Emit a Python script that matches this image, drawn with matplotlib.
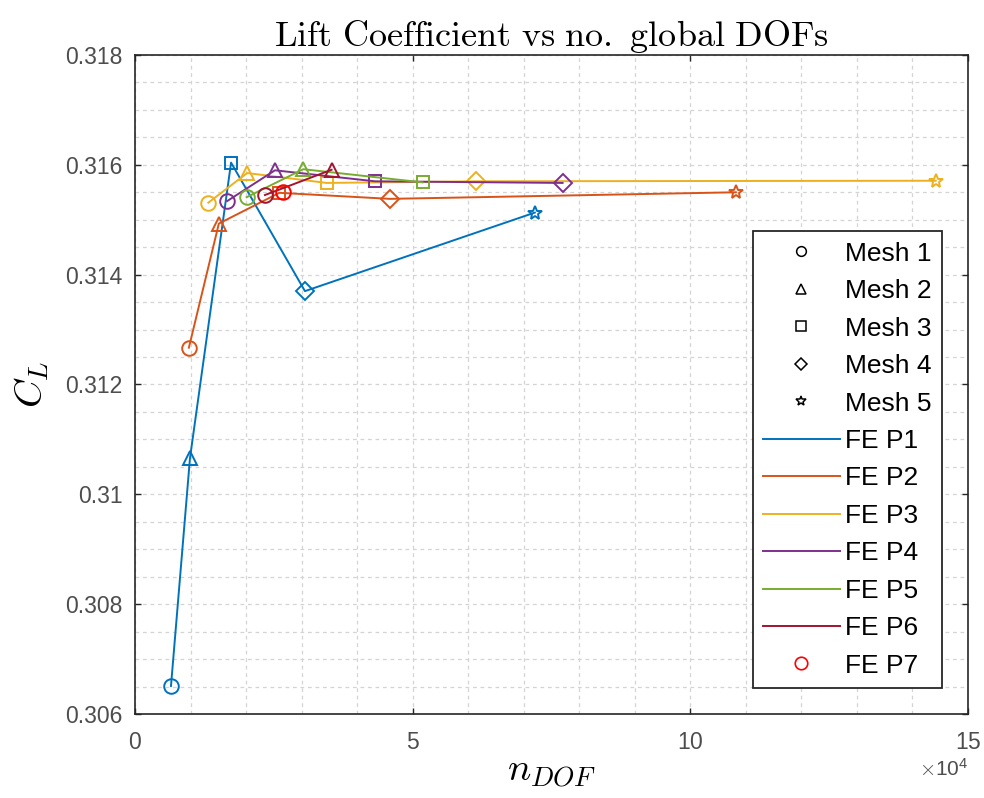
import matplotlib
matplotlib.use('Agg')
import matplotlib.pyplot as plt
from matplotlib.lines import Line2D
from matplotlib.ticker import MultipleLocator, FuncFormatter

plt.rcParams['mathtext.fontset'] = 'cm'
plt.rcParams['font.family'] = ['Liberation Sans', 'DejaVu Sans']

# number of global DOFs and lift coefficient per FE order, meshes 1..5
p1_x = [6480, 9900, 17300, 30600, 72000]
p1_y = [0.30651, 0.31066, 0.31604, 0.31370, 0.31513]
p2_x = [9700, 15100, 26000, 45900, 108200]
p2_y = [0.31267, 0.31493, 0.31549, 0.31538, 0.31550]
p3_x = [13200, 20200, 34500, 61400, 144200]
p3_y = [0.31531, 0.31585, 0.31567, 0.31570, 0.31571]
p4_x = [16600, 25200, 43200, 77000]
p4_y = [0.31534, 0.31590, 0.31570, 0.31567]
p5_x = [20100, 30300, 51800]
p5_y = [0.31541, 0.31592, 0.31568]
p6_x = [23400, 35400]
p6_y = [0.31545, 0.31591]
p7_x = [26700]
p7_y = [0.31550]

series_x = [p1_x, p2_x, p3_x, p4_x, p5_x, p6_x]
series_y = [p1_y, p2_y, p3_y, p4_y, p5_y, p6_y]
colors = ['#0072BD', '#D95319', '#EDB120', '#7E2F8E', '#77AC30', '#A2142F']
mesh_markers = ['o', '^', 's', 'D', '*']
mesh_sizes = [10.5, 10.5, 9, 9, 10.5]
mesh_labels = ['Mesh 1', 'Mesh 2', 'Mesh 3', 'Mesh 4', 'Mesh 5']
fe_labels = ['FE P1', 'FE P2', 'FE P3', 'FE P4', 'FE P5', 'FE P6', 'FE P7']

fig = plt.figure(figsize=(9.84, 7.98), dpi=100)
ax = fig.add_axes([0.1372, 0.1053, 0.8465, 0.8258])

for xs, ys, c in zip(series_x, series_y, colors):
    ax.plot(xs, ys, '-', color=c, lw=1.4)
    for i in range(len(xs)):
        ax.plot(xs[i], ys[i], marker=mesh_markers[i], ms=mesh_sizes[i],
                mfc='none', mec=c, mew=1.4, ls='none')
ax.plot(p7_x, p7_y, 'o', ms=10.5, mfc='none', mec='#FF0000', mew=1.4)

ax.set_xlim(0, 150000)
ax.set_ylim(0.306, 0.318)
ax.xaxis.set_major_locator(MultipleLocator(50000))
ax.xaxis.set_minor_locator(MultipleLocator(10000))
ax.yaxis.set_major_locator(MultipleLocator(0.002))
ax.yaxis.set_minor_locator(MultipleLocator(0.0005))
ax.ticklabel_format(axis='x', style='sci', scilimits=(4, 4), useMathText=True)
ax.yaxis.set_major_formatter(FuncFormatter(lambda v, p: '%g' % round(v, 4)))

ax.grid(True, which='both', ls=(0, (3, 3)), color='#d4d4d4', lw=0.9)
ax.set_axisbelow(True)
ax.tick_params(which='both', direction='in', top=True, right=True,
               colors='#262626', labelcolor='#4d4d4d', labelsize=16.5)
ax.tick_params(which='major', length=4, width=1.0)
ax.tick_params(which='minor', length=0)
ax.tick_params(axis='x', pad=12)
ax.tick_params(axis='y', pad=9)
for s in ax.spines.values():
    s.set_color('#262626')
    s.set_linewidth(1.2)
ax.xaxis.get_offset_text().set_fontsize(15)
ax.xaxis.get_offset_text().set_color('#4d4d4d')

ax.set_title(r'$\mathrm{Lift\ Coefficient\ vs\ no.\ global\ DOFs}$', fontsize=26, pad=6)
ax.set_xlabel(r'$n_{DOF}$', fontsize=28, labelpad=0)
ax.set_ylabel(r'$C_L$', fontsize=28, labelpad=10)

handles = []
for m in mesh_markers:
    handles.append(Line2D([], [], ls='none', marker=m, ms=7 if m != 'D' else 6.5,
                          mfc='none', mec='black', mew=1.1))
for c in colors:
    handles.append(Line2D([], [], color=c, lw=1.4))
handles.append(Line2D([], [], ls='none', marker='o', ms=9, mfc='none',
                      mec='#FF0000', mew=1.2))
leg = ax.legend(handles, mesh_labels + fe_labels, loc='lower right',
                bbox_to_anchor=(0.969, 0.039), borderaxespad=0, fontsize=19,
                handlelength=2.9, handletextpad=0.2, labelspacing=0.51,
                borderpad=0.4, fancybox=False, edgecolor='#262626', framealpha=1)
leg.get_frame().set_linewidth(1.3)

fig.savefig('out.png', dpi=100)
